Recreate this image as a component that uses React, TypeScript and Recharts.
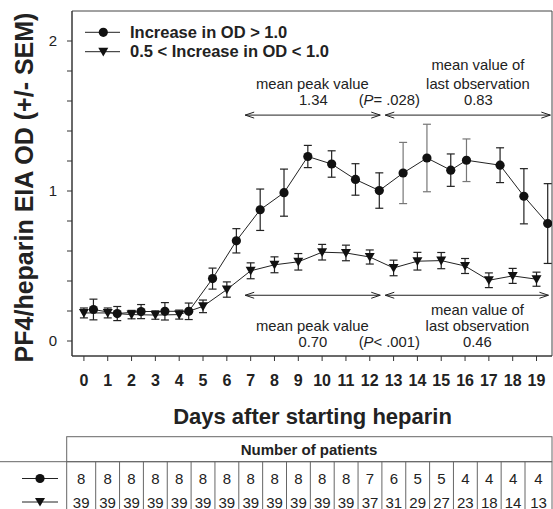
import { ComposedChart, Line, XAxis, YAxis, ErrorBar, ReferenceLine, ReferenceDot, ReferenceArea } from 'recharts';

const FONT = '"Liberation Sans", Arial, Helvetica, sans-serif';

const days = [0, 1, 2, 3, 4, 5, 6, 7, 8, 9, 10, 11, 12, 13, 14, 15, 16, 17, 18, 19];

// OD increase > 1.0 (circles are drawn slightly right of the day tick in the original)
const circleX = [0.4, 1.4, 2.4, 3.4, 4.4, 5.4, 6.4, 7.4, 8.4, 9.4, 10.4, 11.4, 12.4, 13.4, 14.4, 15.4, 16.06, 17.47, 18.47, 19.47];
const circleMean = [0.21, 0.183, 0.196, 0.198, 0.198, 0.416, 0.668, 0.875, 0.989, 1.23, 1.18, 1.077, 1.003, 1.12, 1.22, 1.139, 1.205, 1.172, 0.965, 0.783];
const circleSem = [0.069, 0.047, 0.047, 0.058, 0.055, 0.07, 0.081, 0.138, 0.157, 0.074, 0.088, 0.105, 0.118, 0.204, 0.225, 0.108, 0.142, 0.116, 0.184, 0.266];
const greyBarDays = [13, 14, 16];

// 0.5 < OD increase < 1.0
const triMean = [0.187, 0.187, 0.176, 0.173, 0.176, 0.231, 0.343, 0.468, 0.508, 0.528, 0.592, 0.587, 0.56, 0.487, 0.532, 0.536, 0.5, 0.405, 0.434, 0.412];
const triSem = [0.033, 0.033, 0.028, 0.028, 0.03, 0.042, 0.051, 0.053, 0.053, 0.055, 0.052, 0.052, 0.047, 0.052, 0.059, 0.054, 0.05, 0.049, 0.05, 0.047];

const yTicks = [0, 0.2, 0.4, 0.6, 0.8, 1, 1.2, 1.4, 1.6, 1.8, 2];

const circleCounts = [8, 8, 8, 8, 8, 8, 8, 8, 8, 8, 8, 8, 7, 6, 5, 5, 4, 4, 4, 4];
const triCounts = [39, 39, 39, 39, 39, 39, 39, 39, 39, 39, 39, 39, 37, 31, 29, 27, 23, 18, 14, 13];

// annotation arrows: [from, to, y]
const arrows = [
  [6.77, 12.44, 1.506],
  [12.65, 19.58, 1.506],
  [6.77, 12.44, 0.305],
  [12.65, 19.5, 0.305],
];

// annotation text: [x, y, text]
const notes: [number, number, string][] = [
  [9.59, 1.717, 'mean peak value'],
  [9.63, 1.606, '1.34'],
  [12.82, 1.606, 'P|= .028'],
  [16.54, 1.84, 'mean value of'],
  [16.54, 1.717, 'last observation'],
  [16.56, 1.606, '0.83'],
  [16.52, 0.205, 'mean value of'],
  [16.52, 0.098, 'last observation'],
  [9.59, 0.098, 'mean peak value'],
  [9.61, -0.007, '0.70'],
  [12.82, -0.007, 'P|< .001'],
  [16.52, -0.007, '0.46'],
];

const circleData = days.map((d, i) => ({
  x: circleX[i],
  y: circleMean[i],
  eb: greyBarDays.includes(d) ? null : circleSem[i],
  eg: greyBarDays.includes(d) ? circleSem[i] : null,
}));
const triData = days.map((d, i) => ({ x: d, y: triMean[i], e: triSem[i] }));

const CircleDot = (p: any) => <circle key={`c${p.index}`} cx={p.cx} cy={p.cy} r={4.6} fill="#111" />;
const TriDot = (p: any) => (
  <path key={`t${p.index}`} d={`M${p.cx - 5},${p.cy - 4}L${p.cx + 5},${p.cy - 4}L${p.cx},${p.cy + 4.8}Z`} fill="#111" />
);

const Arrow = (p: any) => {
  const { x1, y1, x2, y2 } = p;
  return (
    <g stroke="#222" strokeWidth={1} fill="none">
      <line x1={x1} y1={y1} x2={x2} y2={y2} />
      <polyline points={`${x1 + 9},${y1 - 3} ${x1},${y1} ${x1 + 9},${y1 + 3}`} />
      <polyline points={`${x2 - 9},${y2 - 3} ${x2},${y2} ${x2 - 9},${y2 + 3}`} />
    </g>
  );
};

const noteShape = (txt: string) => (p: any) => {
  if (txt.includes('|')) {
    const [a, b] = txt.split('|');
    return (
      <text x={p.cx} y={p.cy} dy="0.35em" textAnchor="middle" fontFamily={FONT} fontSize={14.8} fill="#222">
        (<tspan fontStyle="italic">{a}</tspan>{b})
      </text>
    );
  }
  return (
    <text x={p.cx} y={p.cy} dy="0.35em" textAnchor="middle" fontFamily={FONT} fontSize={14.8} fill="#222">
      {txt}
    </text>
  );
};

const colLeft = (i: number) => (i === 0 ? 66.7 : 95.7 + (i - 1) * 23.85);
const colRight = (i: number) => (i === 19 ? 552 : 95.7 + i * 23.85);

export default function App() {
  return (
    <div style={{ position: 'relative', width: 553, height: 509, background: '#fff', fontFamily: FONT }}>
      <style>{`body{margin:0}`}</style>
      <ComposedChart width={553} height={400} margin={{ top: 11, right: 1, left: 0, bottom: 14 }}>
        <XAxis
          type="number"
          dataKey="x"
          domain={[-0.5, 19.65]}
          allowDataOverflow
          ticks={days}
          interval={0}
          height={30}
          tickSize={5}
          tickMargin={14}
          stroke="#333"
          tick={{ fill: '#222', fontSize: 16, fontWeight: 'bold', fontFamily: FONT }}
        />
        <YAxis
          type="number"
          domain={[-0.1, 2.2]}
          allowDataOverflow
          ticks={yTicks}
          interval={0}
          width={72}
          tickSize={5}
          tickMargin={10}
          stroke="#333"
          tickFormatter={(v: number) => (Number.isInteger(v) ? String(v) : '')}
          tick={{ fill: '#222', fontSize: 15, fontFamily: FONT }}
        />
        <ReferenceArea x1={-0.5} x2={19.65} y1={-0.1} y2={2.2} fill="none" stroke="#444" strokeWidth={1} />
        {arrows.map((a, i) => (
          <ReferenceLine
            key={`a${i}`}
            segment={[{ x: a[0], y: a[2] }, { x: a[1], y: a[2] }]}
            shape={Arrow}
          />
        ))}
        {notes.map((n, i) => (
          <ReferenceDot key={`n${i}`} x={n[0]} y={n[1]} r={0} shape={noteShape(n[2])} />
        ))}
        <Line
          data={triData}
          dataKey="y"
          stroke="#222"
          strokeWidth={1}
          dot={TriDot}
          activeDot={false}
          isAnimationActive={false}
        >
          <ErrorBar dataKey="e" direction="y" width={4} stroke="#222" strokeWidth={1.2} />
        </Line>
        <Line
          data={circleData}
          dataKey="y"
          stroke="#222"
          strokeWidth={1}
          dot={CircleDot}
          activeDot={false}
          isAnimationActive={false}
        >
          <ErrorBar dataKey="eb" direction="y" width={4} stroke="#222" strokeWidth={1.2} />
          <ErrorBar dataKey="eg" direction="y" width={4} stroke="#777" strokeWidth={1.2} />
        </Line>
      </ComposedChart>

      <svg width={553} height={509} style={{ position: 'absolute', left: 0, top: 0, pointerEvents: 'none' }}>
        <text
          transform="translate(33,187.5) rotate(-90)"
          textAnchor="middle"
          fontFamily={FONT}
          fontSize={25}
          fontWeight="bold"
          fill="#222"
        >
          PF4/heparin EIA OD (+/- SEM)
        </text>

        {/* legend */}
        <g stroke="#222" strokeWidth={1}>
          <line x1={85} y1={32.3} x2={120} y2={32.3} />
          <line x1={85} y1={51.7} x2={120} y2={51.7} />
        </g>
        <circle cx={103.3} cy={32.3} r={4.6} fill="#111" />
        <path d={`M${98.3},${47.7}L${108.3},${47.7}L${103.3},${56.5}Z`} fill="#111" />
        <text x={130} y={32.3} dy="0.35em" fontFamily={FONT} fontSize={16.5} fontWeight="bold" fill="#222">
          Increase in OD &gt; 1.0
        </text>
        <text x={130} y={51.7} dy="0.35em" fontFamily={FONT} fontSize={16.5} fontWeight="bold" fill="#222">
          0.5 &lt; Increase in OD &lt; 1.0
        </text>

        <text x={312.5} y={424} textAnchor="middle" fontFamily={FONT} fontSize={22} fontWeight="bold" fill="#222">
          Days after starting heparin
        </text>

        {/* patient count table */}
        <g stroke="#666" strokeWidth={1} fill="none">
          <rect x={66.7} y={436.7} width={552 - 66.7} height={25} />
          <line x1={0} y1={461.7} x2={552} y2={461.7} />
          {days.map((d, i) => (
            <line key={`v${d}`} x1={colLeft(i)} y1={461.7} x2={colLeft(i)} y2={509} />
          ))}
          <line x1={552} y1={461.7} x2={552} y2={509} />
        </g>
        <text x={309} y={455} textAnchor="middle" fontFamily={FONT} fontSize={15} fontWeight="bold" fill="#222">
          Number of patients
        </text>
        <g stroke="#222" strokeWidth={1}>
          <line x1={22} y1={478.5} x2={58} y2={478.5} />
          <line x1={22} y1={502} x2={58} y2={502} />
        </g>
        <circle cx={40} cy={478.5} r={4.6} fill="#111" />
        <path d={`M35,498L45,498L40,506.5Z`} fill="#111" />
        {days.map((d, i) => (
          <text
            key={`c${d}`}
            x={(colLeft(i) + colRight(i)) / 2}
            y={484}
            textAnchor="middle"
            fontFamily={FONT}
            fontSize={15}
            fill="#222"
          >
            {circleCounts[i]}
          </text>
        ))}
        {days.map((d, i) => (
          <text
            key={`t${d}`}
            x={(colLeft(i) + colRight(i)) / 2}
            y={507.5}
            textAnchor="middle"
            fontFamily={FONT}
            fontSize={15}
            fill="#222"
          >
            {triCounts[i]}
          </text>
        ))}
      </svg>
    </div>
  );
}
